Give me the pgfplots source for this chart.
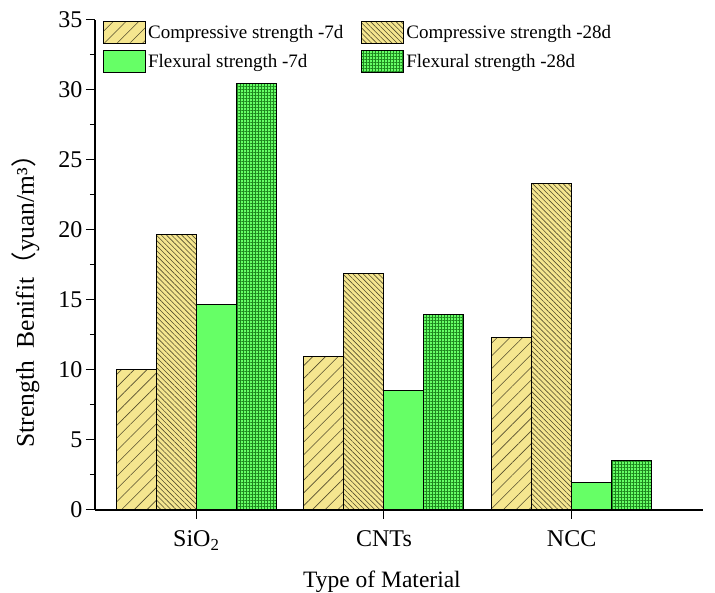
\documentclass[border=0pt]{standalone}
\usepackage{pgfplots}
\pgfplotsset{compat=1.18}
\usetikzlibrary{patterns,patterns.meta}
\usepackage{fontspec}
\setmainfont{Liberation Serif}
\newfontfamily\cjk{Noto Sans CJK SC}
\definecolor{cyel}{RGB}{245,230,143}
\definecolor{cgreen}{RGB}{102,255,102}
\definecolor{chatch}{RGB}{85,78,45}
\definecolor{cdots}{RGB}{30,135,30}
\begin{document}
\begin{tikzpicture}
\path[use as bounding box] (-95pt,-83pt) rectangle (620pt,510pt);
\begin{axis}[
  at={(0,0)}, anchor=south west,
  scale only axis, width=608pt, height=490pt,
  ymin=0, ymax=35, xmin=-0.54, xmax=2.70,
  ybar=0pt, bar width=40pt,
  axis x line*=bottom, axis y line*=left,
  xtick={0,1,2}, xticklabels={SiO\textsubscript{2},CNTs,NCC},
  ytick={0,5,...,35}, minor y tick num=1,
  tick align=outside, major tick length=9pt, minor tick length=5pt,
  tick style={black, line width=1pt},
  axis line style={line width=1.2pt},
  ticklabel style={font=\fontsize{24}{28}\selectfont},
  xticklabel style={yshift=-8pt},
  /pgf/number format/assume math mode=true,
  xlabel={Type of Material},
  ylabel={Strength\ \ Benifit{\cjk （}yuan/m³{\cjk ）}},
  every axis x label/.style={at={(axis description cs:0.472,-0.159)}, anchor=base, font=\fontsize{23.5}{27}\selectfont},
  every axis y label/.style={at={(axis description cs:-0.114,0.439)}, rotate=90, anchor=center, font=\fontsize{25.5}{29}\selectfont},
  legend columns=2,
  legend cell align=left,
  legend style={at={(axis description cs:0.013,0.998)}, anchor=north west, draw=none, fill=none, inner sep=0pt,
    font=\fontsize{19}{22}\selectfont,
    /tikz/every even column/.append style={column sep=16pt}, row sep=6pt},
  legend image code/.code={\draw[#1] (0pt,-11pt) rectangle (42pt,11pt);},
]
\addplot[fill=cyel, draw=black, line width=1pt,
  postaction={pattern={Lines[angle=45,distance=9pt,line width=0.6pt]}, pattern color=chatch}]
  coordinates {(0,10.05) (1,10.95) (2,12.35)};
\addplot[fill=cyel, draw=black, line width=1pt,
  postaction={pattern={Lines[angle=-45,distance=3.6pt,line width=0.6pt]}, pattern color=chatch}]
  coordinates {(0,19.7) (1,16.9) (2,23.3)};
\addplot[fill=cgreen, draw=black, line width=1pt]
  coordinates {(0,14.7) (1,8.55) (2,1.95)};
\addplot[fill=cgreen, draw=black, line width=1pt,
  postaction={pattern={Hatch[distance=3pt,line width=0.45pt]}, pattern color=cdots}]
  coordinates {(0,30.45) (1,13.95) (2,3.55)};
\legend{Compressive strength -7d, Compressive strength -28d, Flexural strength -7d, Flexural strength -28d}
\end{axis}
\end{tikzpicture}
\end{document}
